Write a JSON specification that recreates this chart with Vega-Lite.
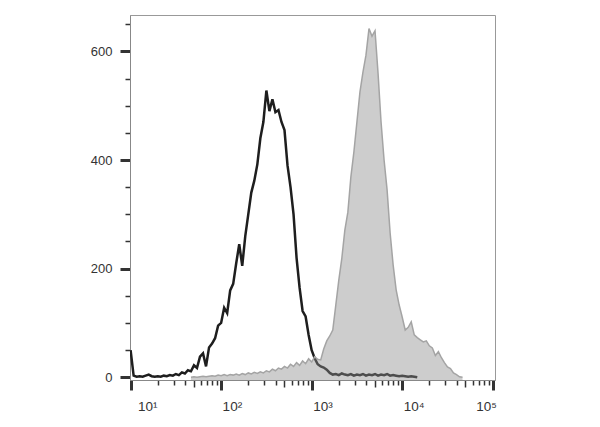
{
  "$schema": "https://vega.github.io/schema/vega-lite/v6.json",
  "width": 365,
  "height": 365,
  "autosize": "none",
  "padding": {"left": 130, "top": 15, "right": 105, "bottom": 47},
  "background": "white",
  "config": {
    "view": {"stroke": "#999999", "strokeWidth": 1},
    "axis": {"labelFont": "Liberation Sans", "labelColor": "#333333", "labelFontSize": 13, "domainColor": "#888888", "tickColor": "#333333", "grid": false, "title": null}
  },
  "datasets": {
    "control": [
      {"x": 10, "count": 50}, {"x": 10.8, "count": 3}, {"x": 11.66, "count": 1}, {"x": 12.59, "count": 2}, {"x": 13.59, "count": 1},
      {"x": 14.68, "count": 3}, {"x": 15.85, "count": 5}, {"x": 17.11, "count": 2}, {"x": 18.48, "count": 1}, {"x": 19.95, "count": 2},
      {"x": 21.54, "count": 1}, {"x": 23.26, "count": 3}, {"x": 25.12, "count": 2}, {"x": 27.12, "count": 4}, {"x": 29.29, "count": 3},
      {"x": 31.62, "count": 6}, {"x": 34.15, "count": 4}, {"x": 36.87, "count": 9}, {"x": 39.81, "count": 7}, {"x": 42.99, "count": 13},
      {"x": 46.42, "count": 11}, {"x": 50.12, "count": 22}, {"x": 54.12, "count": 17}, {"x": 58.43, "count": 38}, {"x": 63.1, "count": 44},
      {"x": 68.13, "count": 20}, {"x": 73.56, "count": 55}, {"x": 79.43, "count": 62}, {"x": 85.77, "count": 72}, {"x": 92.61, "count": 95},
      {"x": 100, "count": 100}, {"x": 108, "count": 128}, {"x": 116.6, "count": 118}, {"x": 125.9, "count": 160}, {"x": 135.9, "count": 172},
      {"x": 146.8, "count": 210}, {"x": 158.5, "count": 245}, {"x": 171.1, "count": 205}, {"x": 184.8, "count": 260}, {"x": 199.5, "count": 300},
      {"x": 215.4, "count": 340}, {"x": 232.6, "count": 362}, {"x": 251.2, "count": 392}, {"x": 271.2, "count": 440}, {"x": 292.9, "count": 470},
      {"x": 316.2, "count": 528}, {"x": 341.5, "count": 490}, {"x": 368.7, "count": 512}, {"x": 398.1, "count": 488}, {"x": 429.9, "count": 492},
      {"x": 464.2, "count": 470}, {"x": 501.2, "count": 455}, {"x": 541.2, "count": 390}, {"x": 584.3, "count": 350}, {"x": 631, "count": 300},
      {"x": 681.3, "count": 220}, {"x": 735.6, "count": 165}, {"x": 794.3, "count": 122}, {"x": 857.7, "count": 112}, {"x": 926.1, "count": 78},
      {"x": 1000, "count": 50}, {"x": 1080, "count": 35}, {"x": 1166, "count": 24}, {"x": 1259, "count": 20}, {"x": 1359, "count": 18},
      {"x": 1468, "count": 14}, {"x": 1585, "count": 8}, {"x": 1711, "count": 5}, {"x": 1848, "count": 6}, {"x": 1995, "count": 4},
      {"x": 2154, "count": 7}, {"x": 2326, "count": 5}, {"x": 2512, "count": 4}, {"x": 2712, "count": 6}, {"x": 2929, "count": 3},
      {"x": 3162, "count": 5}, {"x": 3415, "count": 4}, {"x": 3687, "count": 6}, {"x": 3981, "count": 3}, {"x": 4299, "count": 5},
      {"x": 4642, "count": 4}, {"x": 5012, "count": 6}, {"x": 5412, "count": 3}, {"x": 5843, "count": 5}, {"x": 6310, "count": 4},
      {"x": 6813, "count": 6}, {"x": 7356, "count": 3}, {"x": 7943, "count": 4}, {"x": 8577, "count": 3}, {"x": 9261, "count": 2},
      {"x": 10000, "count": 3}, {"x": 10798, "count": 2}, {"x": 11659, "count": 1}, {"x": 12589, "count": 2}, {"x": 13594, "count": 1},
      {"x": 14678, "count": 0}
    ],
    "stained": [
      {"x": 46.42, "count": 0}, {"x": 50.12, "count": 1}, {"x": 54.12, "count": 0}, {"x": 58.43, "count": 1}, {"x": 63.1, "count": 2},
      {"x": 68.13, "count": 1}, {"x": 73.56, "count": 2}, {"x": 79.43, "count": 3}, {"x": 85.77, "count": 2}, {"x": 92.61, "count": 4},
      {"x": 100, "count": 3}, {"x": 108, "count": 5}, {"x": 116.6, "count": 3}, {"x": 125.9, "count": 5}, {"x": 135.9, "count": 4},
      {"x": 146.8, "count": 6}, {"x": 158.5, "count": 4}, {"x": 171.1, "count": 7}, {"x": 184.8, "count": 5}, {"x": 199.5, "count": 8},
      {"x": 215.4, "count": 6}, {"x": 232.6, "count": 9}, {"x": 251.2, "count": 7}, {"x": 271.2, "count": 10}, {"x": 292.9, "count": 8},
      {"x": 316.2, "count": 12}, {"x": 341.5, "count": 10}, {"x": 368.7, "count": 15}, {"x": 398.1, "count": 12}, {"x": 429.9, "count": 17},
      {"x": 464.2, "count": 15}, {"x": 501.2, "count": 20}, {"x": 541.2, "count": 17}, {"x": 584.3, "count": 24}, {"x": 631, "count": 20},
      {"x": 681.3, "count": 27}, {"x": 735.6, "count": 22}, {"x": 794.3, "count": 30}, {"x": 857.7, "count": 25}, {"x": 926.1, "count": 34},
      {"x": 1000, "count": 28}, {"x": 1080, "count": 38}, {"x": 1166, "count": 33}, {"x": 1259, "count": 32}, {"x": 1359, "count": 52},
      {"x": 1468, "count": 67}, {"x": 1585, "count": 76}, {"x": 1711, "count": 87}, {"x": 1848, "count": 133}, {"x": 1995, "count": 179},
      {"x": 2154, "count": 219}, {"x": 2326, "count": 271}, {"x": 2512, "count": 304}, {"x": 2712, "count": 369}, {"x": 2929, "count": 415},
      {"x": 3162, "count": 470}, {"x": 3415, "count": 525}, {"x": 3687, "count": 562}, {"x": 3981, "count": 593}, {"x": 4299, "count": 642},
      {"x": 4642, "count": 628}, {"x": 5012, "count": 638}, {"x": 5412, "count": 560}, {"x": 5843, "count": 470}, {"x": 6310, "count": 400},
      {"x": 6813, "count": 345}, {"x": 7356, "count": 266}, {"x": 7943, "count": 207}, {"x": 8577, "count": 161}, {"x": 9261, "count": 133},
      {"x": 10000, "count": 111}, {"x": 10798, "count": 87}, {"x": 11659, "count": 92}, {"x": 12589, "count": 102}, {"x": 13594, "count": 78},
      {"x": 14678, "count": 73}, {"x": 15849, "count": 69}, {"x": 17113, "count": 65}, {"x": 18478, "count": 67}, {"x": 19953, "count": 58},
      {"x": 21544, "count": 54}, {"x": 23263, "count": 40}, {"x": 25119, "count": 47}, {"x": 27123, "count": 36}, {"x": 29286, "count": 27},
      {"x": 31623, "count": 19}, {"x": 34145, "count": 16}, {"x": 36869, "count": 8}, {"x": 39811, "count": 5}, {"x": 42987, "count": 1},
      {"x": 46416, "count": 0}
    ]
  },
  "encoding": {
    "x": {
      "field": "x", "type": "quantitative",
      "scale": {"type": "log", "domain": [9.85, 106000], "nice": false},
      "axis": {
        "values": [10,20,30,40,50,60,70,80,90,100,200,300,400,500,600,700,800,900,1000,2000,3000,4000,5000,6000,7000,8000,9000,10000,20000,30000,40000,50000,60000,70000,80000,90000,100000],
        "labelExpr": "datum.value == 10 ? '10¹' : datum.value == 100 ? '10²' : datum.value == 1000 ? '10³' : datum.value == 10000 ? '10⁴' : datum.value == 100000 ? '10⁵' : ''",
        "labelAlign": "left",
        "labelFontSize": 13.5,
        "labelOffset": {"condition": [{"test": "datum.value == 10", "value": 7}, {"test": "datum.value == 100000", "value": -17}], "value": 1},
        "labelPadding": 9,
        "labelFlush": false,
        "labelOverlap": false,
        "tickSize": {"condition": [{"test": "indexof([10,100,1000,10000,100000], datum.value) >= 0", "value": 10}, {"test": "indexof([50,500,5000,50000], datum.value) >= 0", "value": 7}], "value": 5},
        "tickWidth": {"condition": [{"test": "indexof([10,100,1000,10000,100000], datum.value) >= 0", "value": 3}], "value": 1.5}
      }
    },
    "y": {
      "field": "count", "type": "quantitative",
      "scale": {"domain": [-5, 667], "nice": false, "zero": false},
      "axis": {
        "values": [0,50,100,150,200,250,300,350,400,450,500,550,600,650],
        "labelExpr": "datum.value % 200 == 0 ? datum.label : ''",
        "labelPadding": 8,
        "labelOverlap": false,
        "tickSize": {"condition": {"test": "datum.value % 200 == 0", "value": 10}, "value": 5},
        "tickWidth": {"condition": {"test": "datum.value % 200 == 0", "value": 3}, "value": 1.5}
      }
    }
  },
  "layer": [
    {
      "data": {"name": "control"},
      "mark": {"type": "line", "color": "#1e1e1e", "strokeWidth": 2.5, "interpolate": "linear", "clip": true}
    },
    {
      "data": {"name": "stained"},
      "mark": {"type": "area", "color": "#8c8c8c", "opacity": 0.43, "clip": true},
      "encoding": {"y2": {"datum": -5}}
    },
    {
      "data": {"name": "stained"},
      "mark": {"type": "line", "color": "#a4a4a4", "strokeWidth": 1.5, "clip": true}
    }
  ]
}
